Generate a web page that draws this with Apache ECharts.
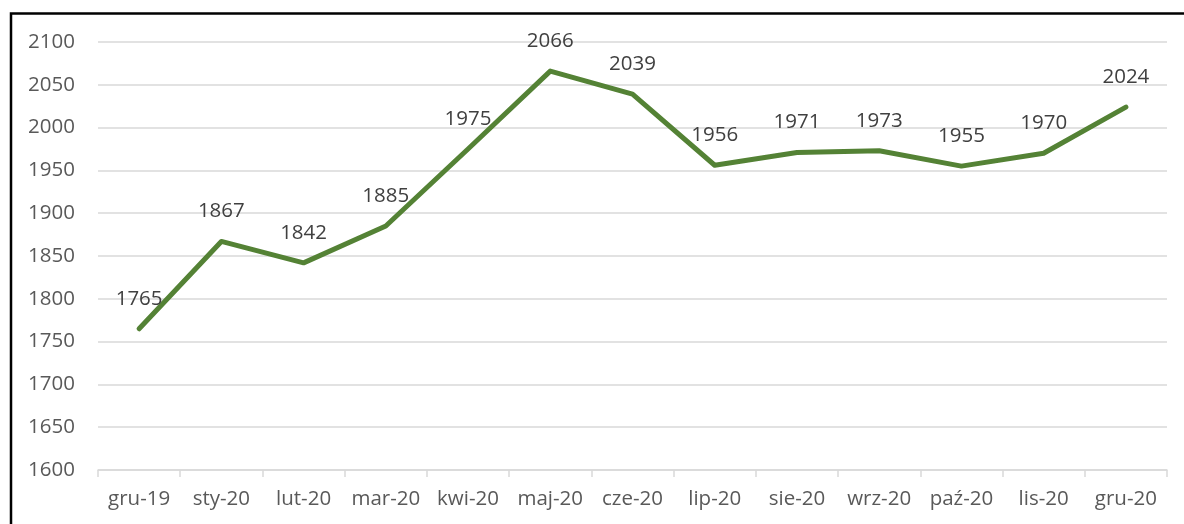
<!DOCTYPE html>
<html>
<head>
<meta charset="utf-8">
<script src="https://cdn.jsdelivr.net/npm/echarts@6/dist/echarts.min.js"></script>
<style>
html,body{margin:0;padding:0;background:#fff;}
#chart{width:1184px;height:524px;}
</style>
</head>
<body>
<div id="chart"></div>
<script>
const categories = ['gru-19','sty-20','lut-20','mar-20','kwi-20','maj-20','cze-20','lip-20','sie-20','wrz-20','paź-20','lis-20','gru-20'];
const values = [1765,1867,1842,1885,1975,2066,2039,1956,1971,1973,1955,1970,2024];
const yMin = 1600, yMax = 2100, yStep = 50;

const FONT = '"Open Sans", "Noto Sans", sans-serif';
const chart = echarts.init(document.getElementById('chart'), null, {renderer:'canvas'});
chart.setOption({
  animation: false,
  backgroundColor: '#ffffff',
  graphic: [{
    type: 'rect',
    shape: {x: 11, y: 13.5, width: 1300, height: 700},
    style: {fill: 'none', stroke: '#000000', lineWidth: 2.5},
    silent: true
  }],
  grid: {left: 98, right: 17, top: 42, bottom: 54, containLabel: false},
  xAxis: {
    type: 'category',
    data: categories,
    boundaryGap: true,
    axisLine: {show: true, lineStyle: {color: '#d9d9d9', width: 1.5}},
    axisTick: {show: true, length: 7, interval: 0, lineStyle: {color: '#d9d9d9', width: 1.5}},
    axisLabel: {color: '#595959', fontSize: 20.5, fontFamily: FONT, margin: 19, interval: 0}
  },
  yAxis: {
    type: 'value',
    min: yMin, max: yMax, interval: yStep,
    axisLine: {show: false},
    axisTick: {show: false},
    splitLine: {show: true, lineStyle: {color: '#d9d9d9', width: 1.5}},
    axisLabel: {color: '#595959', fontSize: 20.5, fontFamily: FONT, margin: 23, formatter: v => String(v)}
  },
  series: [{
    type: 'line',
    data: values,
    symbol: 'circle',
    symbolSize: 1,
    showSymbol: true,
    lineStyle: {color: '#548235', width: 5, cap: 'round', join: 'round'},
    itemStyle: {color: '#548235', opacity: 0},
    label: {show: true, position: 'top', distance: 19, color: '#404040', fontSize: 20.5, fontFamily: FONT, opacity: 1},
    labelLayout: {hideOverlap: false}
  }]
});
</script>
</body>
</html>
